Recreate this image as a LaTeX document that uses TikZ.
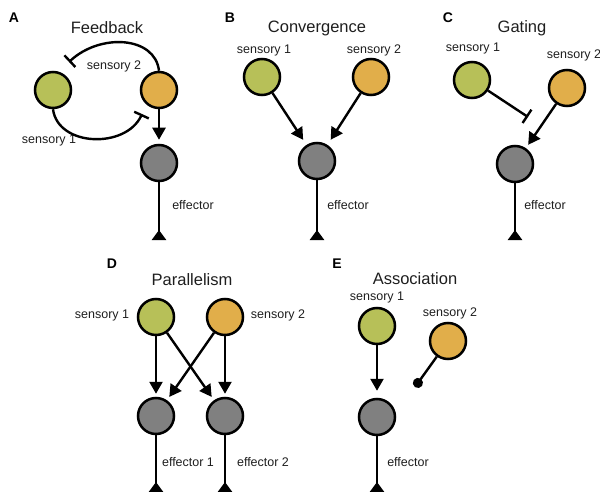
\documentclass[tikz,border=0pt]{standalone}
\usepackage{fontspec}
\setmainfont{Liberation Sans}
\usetikzlibrary{arrows.meta}
\definecolor{sgreen}{RGB}{183,192,88}
\definecolor{sorange}{RGB}{225,174,74}
\definecolor{sgray}{RGB}{128,128,128}
\definecolor{txt}{RGB}{30,30,30}
\tikzset{
  neuron/.style={circle,draw=black,line width=2.5pt,minimum size=36pt,inner sep=0pt},
  sens1/.style={neuron,fill=sgreen},
  sens2/.style={neuron,fill=sorange},
  eff/.style={neuron,fill=sgray},
  excit/.style={line width=2.4pt,-{Triangle[width=13pt,length=12pt]},shorten >=4pt},
  inhib/.style={line width=2.4pt,-{Bar[width=16pt,line width=2.4pt]}},
  assoc/.style={line width=2.4pt,-{Circle[length=10pt]}},
  axon/.style={line width=2.4pt,-{Triangle[reversed,width=14pt,length=10pt]}},
  lab/.style={text=txt,font=\fontsize{12.5}{14}\selectfont,inner sep=0pt},
  ttl/.style={text=txt,font=\fontsize{16.5}{19}\selectfont,inner sep=0pt},
  letter/.style={text=black,font=\fontsize{14}{16}\selectfont\bfseries,inner sep=0pt}
}
\begin{document}
\begin{tikzpicture}[x=1pt,y=-1pt]
\useasboundingbox (0,0) rectangle (600,492);
% ---------- A Feedback
\node[letter] (LA) at (14,18) {A};
\node[ttl] (TA) at (107,28) {Feedback};
\node[sens1] (gA) at (53,90) {};
\node[sens2] (oA) at (159,90) {};
\node[eff] (eA) at (159,163) {};
\coordinate (fbT) at (69,62);
\coordinate (fbB) at (142,114);
\coordinate (tA) at (159,240);
\node[lab] (s2A) at (114,66) {sensory 2};
\node[lab] (s1A) at (49,140) {sensory 1};
\node[lab] (efA) at (193,205) {effector};
\draw[inhib] (oA.north) .. controls (155,36) and (100,33) .. (fbT);
\draw[inhib] (gA.south) .. controls (58,147) and (126,149) .. (fbB);
\draw[excit] (oA) -- (eA);
\draw[axon] (eA) -- (tA);
% ---------- B Convergence
\node[letter] (LB) at (230,18) {B};
\node[ttl] (TB) at (317,28) {Convergence};
\node[sens1] (gB) at (262,77) {};
\node[sens2] (oB) at (371,77) {};
\node[eff] (eB) at (317,161) {};
\coordinate (tB) at (317,240);
\node[lab] (s1B) at (264,50) {sensory 1};
\node[lab] (s2B) at (374,50) {sensory 2};
\node[lab] (efB) at (348,205) {effector};
\draw[excit,shorten >=6pt] (gB) -- (eB);
\draw[excit,shorten >=6pt] (oB) -- (eB);
\draw[axon] (eB) -- (tB);
% ---------- C Gating
\node[letter] (LC) at (448,18) {C};
\node[ttl] (TC) at (522,28) {Gating};
\node[sens1] (gC) at (472,80) {};
\node[sens2] (oC) at (567,88) {};
\node[eff] (eC) at (515,164) {};
\coordinate (gT) at (528,117);
\coordinate (tC) at (515,240);
\node[lab] (s1C) at (473,48) {sensory 1};
\node[lab] (s2C) at (574,55) {sensory 2};
\node[lab] (efC) at (545,205) {effector};
\draw[inhib] (gC) -- (gT);
\draw[excit] (oC) -- (eC);
\draw[axon] (eC) -- (tC);
% ---------- D Parallelism
\node[letter] (LD) at (112,264) {D};
\node[ttl] (TD) at (192,280) {Parallelism};
\node[sens1] (gD) at (156,317) {};
\node[sens2] (oD) at (225,317) {};
\node[eff] (e1D) at (156,416) {};
\node[eff] (e2D) at (225,416) {};
\coordinate (t1D) at (156,492);
\coordinate (t2D) at (225,492);
\node[lab] (s1D) at (102,315) {sensory 1};
\node[lab] (s2D) at (278,315) {sensory 2};
\node[lab] (ef1D) at (188,462) {effector 1};
\node[lab] (ef2D) at (263,462) {effector 2};
\draw[excit,shorten >=3pt] (gD) -- (e1D);
\draw[excit,shorten >=3pt] (oD) -- (e2D);
\draw[excit,shorten >=4pt] (gD) -- (e2D);
\draw[excit,shorten >=4pt] (oD) -- (e1D);
\draw[axon] (e1D) -- (t1D);
\draw[axon] (e2D) -- (t2D);
% ---------- E Association
\node[letter] (LE) at (337,264) {E};
\node[ttl] (TE) at (415,279) {Association};
\node[sens1] (gE) at (377,326) {};
\node[sens2] (oE) at (448,341) {};
\node[eff] (eE) at (377,417) {};
\coordinate (dE) at (415,387);
\coordinate (tE) at (377,492);
\node[lab] (s1E) at (377,297) {sensory 1};
\node[lab] (s2E) at (450,313) {sensory 2};
\node[lab] (efE) at (408,462) {effector};
\draw[excit,shorten >=7pt] (gE) -- (eE);
\draw[assoc] (oE) -- (dE);
\draw[axon] (eE) -- (tE);
\end{tikzpicture}
\end{document}
